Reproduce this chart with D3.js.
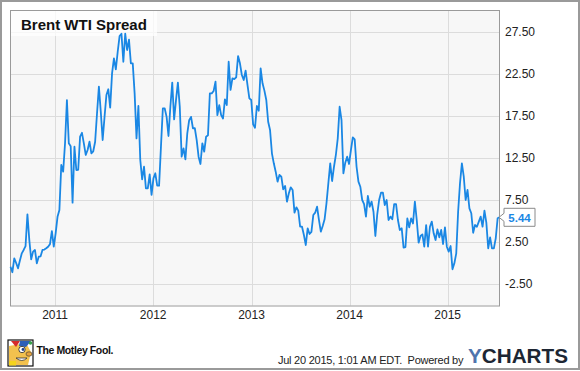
<!DOCTYPE html>
<html>
<head>
<meta charset="utf-8">
<script src="https://cdn.jsdelivr.net/npm/d3@7"></script>
<style>
  html, body { margin: 0; padding: 0; background: #fff; }
  svg { display: block; font-family: "Liberation Sans", Arial, sans-serif; }
</style>
</head>
<body>
<div id="chart"></div>
<script>
// Brent minus WTI spot spread (USD/bbl), one value per week
const START_DATE = '2010-07-19';
const spread = [
  -0.44, -1.1, 0.56, 0.0, -0.63, 0.3, 1.15, 1.55, 2.02, 5.8,
  2.74, 0.44, 1.35, 1.55, -0.04, 0.75, 0.8, 1.55, 1.6, 1.75,
  1.94, 2.25, 3.8, 1.94, 3.53, 5.5, 6.3, 11.67, 10.87, 14.25,
  19.4, 14.25, 13.9, 7.18, 13.85, 11.07, 11.1, 15.05, 15.5, 14.25,
  12.86, 13.45, 14.44, 13.06, 13.3, 14.44, 17.8, 21.0, 18.0, 14.64,
  17.4, 20.0, 20.68, 18.5, 22.58, 24.37, 23.06, 25.15, 27.02, 27.3,
  23.96, 27.3, 25.36, 26.6, 23.77, 23.77, 20.2, 14.84, 18.69, 12.26,
  9.96, 11.46, 8.89, 8.89, 10.56, 8.1, 10.08, 10.68, 9.2, 9.2,
  13.85, 18.4, 18.4, 17.4, 15.12, 18.6, 21.47, 17.1, 19.4, 21.47,
  18.6, 12.66, 13.65, 12.34, 15.44, 17.0, 17.4, 16.04, 16.04, 14.64,
  12.66, 11.79, 14.25, 13.25, 15.04, 15.2, 20.2, 20.2, 20.48, 21.6,
  17.6, 18.8, 17.6, 17.2, 19.49, 18.8, 23.96, 20.6, 21.99, 21.9,
  22.1, 24.64, 23.77, 22.38, 21.79, 22.9, 21.2, 19.6, 19.4, 16.5,
  16.1, 18.69, 18.13, 23.18, 21.39, 20.52, 19.4, 16.82, 15.83, 13.06,
  11.87, 10.87, 9.68, 10.48, 10.27, 8.77, 9.17, 7.3, 8.3, 9.01,
  8.7, 5.99, 6.63, 6.23, 4.32, 4.32, 3.33, 2.14, 4.13, 3.45,
  3.7, 5.71, 5.99, 6.7, 5.12, 3.73, 4.4, 5.2, 7.1, 9.49,
  11.87, 9.76, 11.46, 12.86, 14.84, 18.6, 17.0, 10.68, 11.94, 12.66,
  11.79, 13.45, 14.96, 14.72, 11.46, 9.68, 9.08, 7.5, 7.02, 5.52,
  7.98, 6.7, 7.3, 6.1, 3.21, 5.8, 7.5, 8.37, 8.37, 6.9,
  7.5, 5.12, 5.52, 5.2, 7.02, 7.02, 5.12, 3.93, 4.13, 1.82,
  1.9, 5.32, 4.25, 5.32, 4.7, 7.3, 5.12, 2.42, 3.21, 3.4,
  1.94, 4.52, 1.94, 4.32, 4.92, 3.53, 2.74, 4.0, 3.06, 3.93,
  2.26, 4.25, 1.94, 1.35, 2.02, -0.75, -0.04, 1.15, 6.1, 9.49,
  11.87, 10.27, 7.5, 8.69, 6.51, 5.92, 3.6, 4.52, 4.32, 4.92,
  5.52, 4.32, 6.23, 4.8, 1.75, 3.06, 1.75, 1.75, 2.94, 5.32,
  5.44
];

// Axis ticks
const yTicks = [-2.5, 2.5, 7.5, 12.5, 17.5, 22.5, 27.5];
const yearTicks = ['2011', '2012', '2013', '2014', '2015'];
const yDomain = [-5.06, 30.12];

// Texts
const TITLE = 'Brent WTI Spread';
const STAMP = 'Jul 20 2015, 1:01 AM EDT.  Powered by';

const width = 580, height = 371;
const plot = { left: 10.5, right: 499.5, top: 10, bottom: 305.5 };
const lineColor = '#1a87e4';

// plain hyphen for negatives, like the original
const fmt = d3.formatLocale({ decimal: '.', thousands: ',', grouping: [3], currency: ['$', ''], minus: '-' }).format('.2f');

const parseDate = d3.timeParse('%Y-%m-%d');
const start = parseDate(START_DATE);
const data = spread.map((v, i) => ({ date: d3.timeDay.offset(start, 7 * i), value: v }));

const x = d3.scaleTime()
  .domain(d3.extent(data, d => d.date))
  .range([plot.left, plot.right]);
const y = d3.scaleLinear()
  .domain(yDomain)
  .range([plot.bottom, plot.top]);

const svg = d3.select('#chart')
  .append('svg')
  .attr('width', width)
  .attr('height', height);

// Outer frame
svg.append('rect')
  .attr('x', 1).attr('y', 1)
  .attr('width', width - 2).attr('height', height - 3)
  .attr('fill', '#fff')
  .attr('stroke', '#9a9a9a')
  .attr('stroke-width', 2);

// Plot background
svg.append('rect')
  .attr('x', plot.left).attr('y', plot.top)
  .attr('width', plot.right - plot.left).attr('height', plot.bottom - plot.top)
  .attr('fill', '#f7f7f7');

// Gridlines
svg.append('g')
  .selectAll('line')
  .data(yTicks)
  .enter()
  .append('line')
  .attr('x1', plot.left).attr('x2', plot.right)
  .attr('y1', d => Math.round(y(d)) + 0.5).attr('y2', d => Math.round(y(d)) + 0.5)
  .attr('stroke', '#dcdcdc');

const yearDates = yearTicks.map(t => new Date(+t, 0, 1));
svg.append('g')
  .selectAll('line')
  .data(yearDates)
  .enter()
  .append('line')
  .attr('x1', d => Math.round(x(d)) + 0.5).attr('x2', d => Math.round(x(d)) + 0.5)
  .attr('y1', plot.top).attr('y2', plot.bottom)
  .attr('stroke', '#dcdcdc');

// Plot border
svg.append('rect')
  .attr('x', plot.left).attr('y', plot.top + 0.5)
  .attr('width', plot.right - plot.left).attr('height', plot.bottom - plot.top)
  .attr('fill', 'none')
  .attr('stroke', '#9a9a9a');

// Title box
svg.append('rect')
  .attr('x', plot.left + 0.5).attr('y', plot.top + 1)
  .attr('width', 146).attr('height', 25)
  .attr('fill', '#fff')
  .attr('fill-opacity', 0.75);
svg.append('text')
  .attr('x', 21).attr('y', 29.5)
  .attr('font-size', 15)
  .attr('font-weight', 'bold')
  .attr('fill', '#111')
  .text(TITLE);

// Spread line
const line = d3.line()
  .x(d => x(d.date))
  .y(d => y(d.value));
svg.append('path')
  .datum(data)
  .attr('d', line)
  .attr('fill', 'none')
  .attr('stroke', lineColor)
  .attr('stroke-width', 1.8)
  .attr('stroke-linejoin', 'round');

// Y axis labels (right side)
svg.append('g')
  .selectAll('text')
  .data(yTicks)
  .enter()
  .append('text')
  .attr('x', 505)
  .attr('y', d => y(d) + 4.3)
  .attr('font-size', 12)
  .attr('fill', '#222')
  .text(d => fmt(d));

// X axis labels
svg.append('g')
  .selectAll('text')
  .data(yearDates)
  .enter()
  .append('text')
  .attr('x', d => x(d))
  .attr('y', 318.5)
  .attr('text-anchor', 'middle')
  .attr('font-size', 12)
  .attr('fill', '#222')
  .text(d => d3.timeFormat('%Y')(d));

// Last value flag
const last = data[data.length - 1];
const ly = y(last.value);
svg.append('path')
  .attr('d', `M504,${ly - 9}H535V${ly + 9}H504V${ly + 4}L499,${ly}L504,${ly - 4}Z`)
  .attr('fill', '#fff')
  .attr('stroke', '#8a8a8a');
svg.append('text')
  .attr('x', 519.5).attr('y', ly + 4.3)
  .attr('text-anchor', 'middle')
  .attr('font-size', 11.5)
  .attr('font-weight', 'bold')
  .attr('fill', lineColor)
  .text(fmt(last.value));

// Footer: Motley Fool logo (simplified jester)
const logo = svg.append('g');
logo.append('rect')
  .attr('x', 8).attr('y', 340).attr('width', 25).attr('height', 26)
  .attr('fill', '#fff').attr('stroke', '#111').attr('stroke-width', 1.2);
logo.append('path').attr('d', 'M9,346L26,343L31,352L28,365L9,365Z').attr('fill', '#f2c14e');
logo.append('path').attr('d', 'M11,341H20L16,347Z').attr('fill', '#d62b2b');
logo.append('path').attr('d', 'M20,341H31L26,347L19,346Z').attr('fill', '#2d5fb8');
logo.append('circle').attr('cx', 30.5).attr('cy', 343).attr('r', 1.8).attr('fill', '#3aa24a');
logo.append('circle').attr('cx', 22).attr('cy', 349.5).attr('r', 3.2)
  .attr('fill', '#fff').attr('stroke', '#222').attr('stroke-width', 0.8);
logo.append('circle').attr('cx', 23).attr('cy', 349.5).attr('r', 1.4).attr('fill', '#1c3f8c');
logo.append('ellipse').attr('cx', 29).attr('cy', 354).attr('rx', 3).attr('ry', 2.2)
  .attr('fill', '#e8a33c').attr('stroke', '#333').attr('stroke-width', 0.6);
logo.append('path').attr('d', 'M16,358Q22,363 27,358Z')
  .attr('fill', '#fff').attr('stroke', '#333').attr('stroke-width', 0.8);
logo.append('rect').attr('x', 9).attr('y', 361).attr('width', 7).attr('height', 4.5).attr('fill', '#f5d31c');

svg.append('text')
  .attr('x', 36.5).attr('y', 353.5)
  .attr('font-size', 10.5)
  .attr('font-weight', 'bold')
  .attr('letter-spacing', -0.4)
  .attr('fill', '#111')
  .text('The Motley Fool.');

// Footer: timestamp and YCharts
svg.append('text')
  .attr('x', 278).attr('y', 364)
  .attr('font-size', 11)
  .attr('letter-spacing', -0.25)
  .attr('fill', '#222')
  .attr('xml:space', 'preserve')
  .style('white-space', 'pre')
  .text(STAMP);

const yc = svg.append('text')
  .attr('x', 468).attr('y', 363)
  .attr('font-size', 21)
  .attr('font-weight', 'bold')
  .attr('textLength', 100)
  .attr('lengthAdjust', 'spacingAndGlyphs');
yc.append('tspan').attr('fill', '#4f74ad').text('Y');
yc.append('tspan').attr('fill', '#1d2633').text('CHARTS');
</script>
</body>
</html>
